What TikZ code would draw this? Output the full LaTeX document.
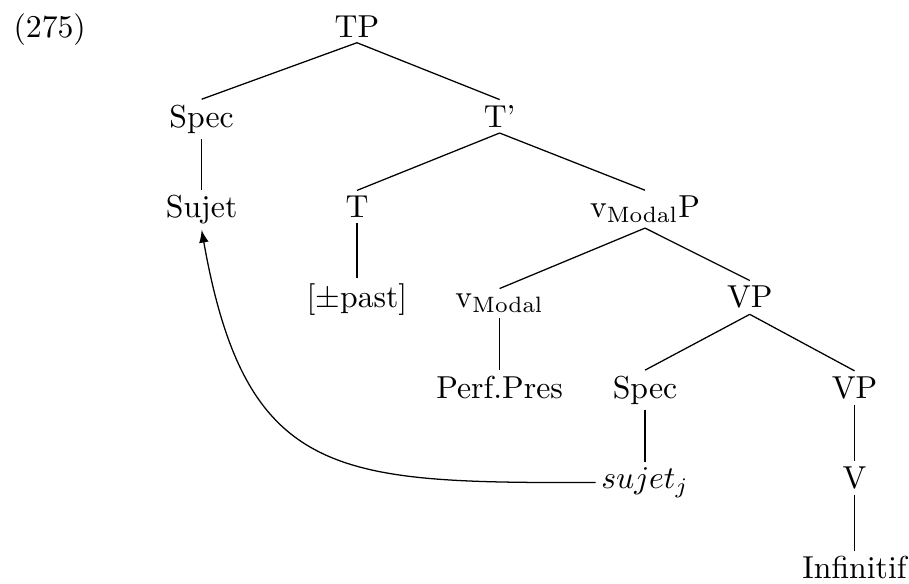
\documentclass[tikz,border=0pt]{standalone}
\usepackage{amsmath}
\usepackage{tikz}
\usetikzlibrary{arrows}

\begin{document}
\begin{tikzpicture}[
    lbl/.style={anchor=base, inner sep=1.6pt},
    branch/.style={line width=0.4pt},
    move/.style={-latex, line width=0.4pt}
]
    \useasboundingbox (-3.953,0.41) rectangle (6.113,-6.047);

    % Example number
    \node[anchor=base west, inner sep=0pt] (num) at (-3.81,0) {(275)};

    % TP level
    \node[lbl] (tp) at (0,0) {TP};
    \node[lbl] (spec) at (-1.72,-1) {Spec};
    \node[lbl] (tbar) at (1.58,-1) {T'};
    \node[lbl] (sujet) at (-1.72,-2) {Sujet};
    \node[lbl] (t) at (0,-2) {T};
    \node[lbl] (vmodp) at (3.19,-2) {v$_{\mathrm{Modal}}$P};
    \node[lbl] (past) at (0,-3) {[$\pm$past]};

    % vModal level
    \node[lbl] (vmod) at (1.58,-3) {v$_{\mathrm{Modal}}$};
    \node[lbl] (vp) at (4.35,-3) {VP};
    \node[lbl] (perf) at (1.58,-4) {Perf.Pres};

    % VP level
    \node[lbl] (specv) at (3.19,-4) {Spec};
    \node[lbl] (vpb) at (5.51,-4) {VP};
    \node[lbl] (trace) at (3.19,-5) {$sujet_j$};
    \node[lbl] (v) at (5.51,-5) {V};
    \node[lbl] (inf) at (5.51,-6) {Infinitif};

    % Branches
    \draw[branch] (tp.south) -- (spec.north);
    \draw[branch] (tp.south) -- (tbar.north);
    \draw[branch] (spec.south) -- (sujet.north);
    \draw[branch] (tbar.south) -- (t.north);
    \draw[branch] (tbar.south) -- (vmodp.north);
    \draw[branch] (t.south) -- (past.north);
    \draw[branch] (vmodp.south) -- (vmod.north);
    \draw[branch] (vmodp.south) -- (vp.north);
    \draw[branch] (vmod.south) -- (perf.north);
    \draw[branch] (vp.south) -- (specv.north);
    \draw[branch] (vp.south) -- (vpb.north);
    \draw[branch] (specv.south) -- (trace.north);
    \draw[branch] (vpb.south) -- (v.north);
    \draw[branch] (v.south) -- (inf.north);

    % Movement
    \draw[move] (trace.west) to[out=180, in=-80, looseness=1.4] (sujet.south);
\end{tikzpicture}
\end{document}
